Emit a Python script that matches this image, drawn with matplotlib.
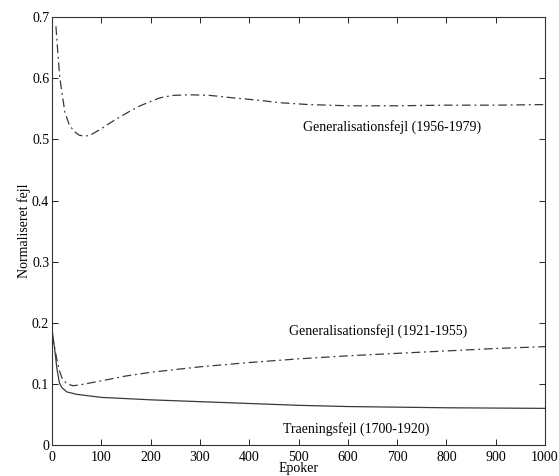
#!/usr/bin/env python3

import numpy as np
import matplotlib.pyplot as plt

# Generalisationsfejl (1956-1979)
ep_gen2 = [8, 12, 16, 20, 26, 35, 45, 55, 67, 80, 97, 120, 138, 160, 179, 200, 219,
           245, 280, 320, 367, 420, 462, 520, 600, 700, 800, 900, 1000]
val_gen2 = [0.685, 0.64, 0.60, 0.578, 0.545, 0.524, 0.513, 0.507, 0.505, 0.508, 0.516,
            0.528, 0.537, 0.547, 0.555, 0.562, 0.568, 0.572, 0.573, 0.572, 0.568, 0.564,
            0.560, 0.557, 0.555, 0.555, 0.556, 0.556, 0.557]

# Generalisationsfejl (1921-1955)
ep_gen1 = [0, 5, 10, 15, 20, 30, 43, 60, 100, 150, 200, 300, 400, 500, 600, 700, 800, 900, 1000]
val_gen1 = [0.18, 0.16, 0.14, 0.122, 0.11, 0.10, 0.097, 0.099, 0.105, 0.113, 0.119, 0.128,
            0.135, 0.141, 0.146, 0.150, 0.154, 0.158, 0.161]

# Traeningsfejl (1700-1920)
ep_train = [0, 5, 10, 15, 20, 30, 50, 100, 200, 300, 400, 500, 600, 700, 800, 900, 1000]
val_train = [0.19, 0.16, 0.125, 0.102, 0.094, 0.087, 0.083, 0.078, 0.074, 0.071, 0.068,
             0.065, 0.063, 0.062, 0.061, 0.0605, 0.060]

xticks = np.arange(0, 1001, 100)
yticks = np.arange(0, 0.71, 0.1)

plt.rcParams['font.family'] = ['Liberation Serif', 'DejaVu Serif']
plt.rcParams['font.size'] = 10

fig = plt.figure(figsize=(5.59, 4.76), dpi=100)
ax = fig.add_axes([0.093, 0.065, 0.882, 0.899])

dashdot = (0, (7, 3, 1.5, 3))
lc = '#3a3a3a'
ax.plot(ep_gen2, val_gen2, color=lc, lw=0.9, linestyle=dashdot)
ax.plot(ep_gen1, val_gen1, color=lc, lw=0.9, linestyle=dashdot)
ax.plot(ep_train, val_train, color=lc, lw=0.9)

ax.text(690, 0.52, 'Generalisationsfejl (1956-1979)', ha='center', va='center')
ax.text(661, 0.187, 'Generalisationsfejl (1921-1955)', ha='center', va='center')
ax.text(617, 0.026, 'Traeningsfejl (1700-1920)', ha='center', va='center')

ax.set_xlim(0, 1000)
ax.set_ylim(0, 0.7)
ax.set_xticks(xticks)
ax.set_yticks(yticks)
ax.set_yticklabels(['0', '0.1', '0.2', '0.3', '0.4', '0.5', '0.6', '0.7'])
ax.tick_params(direction='in', top=True, right=True, length=4, width=0.6, pad=2)
ax.tick_params(axis='x', pad=4)
for s in ax.spines.values():
    s.set_linewidth(0.8)
    s.set_color('#333333')

ax.set_xlabel('Epoker', labelpad=-1)
ax.set_ylabel('Normaliseret fejl', labelpad=1)

fig.savefig('out.png', dpi=100)
